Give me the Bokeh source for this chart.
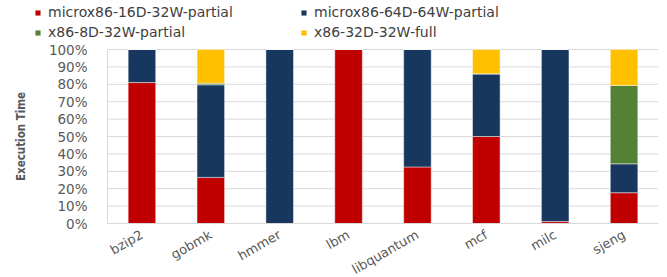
from bokeh.plotting import figure
from bokeh.models import Range1d, FixedTicker, NumeralTickFormatter, Legend, LegendItem
from bokeh.embed import file_html
from bokeh.resources import INLINE

categories = ["bzip2", "gobmk", "hmmer", "lbm", "libquantum", "mcf", "milc", "sjeng"]
series_names = ["microx86-16D-32W-partial", "microx86-64D-64W-partial",
                "x86-8D-32W-partial", "x86-32D-32W-full"]
red = [0.81, 0.265, 0.0, 1.0, 0.325, 0.50, 0.011, 0.177]
blue = [0.19, 0.532, 1.0, 0.0, 0.675, 0.36, 0.989, 0.166]
green = [0.0, 0.009, 0.0, 0.0, 0.0, 0.0, 0.0, 0.45]
yellow = [0.0, 0.194, 0.0, 0.0, 0.0, 0.14, 0.0, 0.207]
colors = ["#C00000", "#17375E", "#538135", "#FFC000"]
y_ticks = [0, 0.1, 0.2, 0.3, 0.4, 0.5, 0.6, 0.7, 0.8, 0.9, 1.0]

n = len(categories)
xpos = [i + 0.5 for i in range(n)]
data = {"x": xpos, "s0": red, "s1": blue, "s2": green, "s3": yellow}

# frame covers the whole canvas; the bars occupy a 551 x 174 px region inside it
left_px, plot_px, top_px, plot_h, bottom_px = 107, 551, 49, 174, 53
x_start = -left_px / plot_px * n
y_start = -bottom_px / plot_h
y_end = 1 + top_px / plot_h

p = figure(x_range=Range1d(x_start, n), y_range=Range1d(y_start, y_end),
           frame_width=left_px + plot_px, frame_height=top_px + plot_h + bottom_px,
           output_backend="svg", toolbar_location=None,
           min_border_left=0, min_border_right=1, min_border_top=0, min_border_bottom=0)
p.outline_line_color = None
p.xgrid.grid_line_color = None
p.ygrid.grid_line_color = None

# horizontal gridlines over the category area only
p.segment(x0=[0] * len(y_ticks), x1=[n] * len(y_ticks), y0=y_ticks, y1=y_ticks,
          line_color="#d9d9d9", line_width=1)

renderers = p.vbar_stack(["s0", "s1", "s2", "s3"], x="x", width=0.4, source=data,
                         color=colors, line_color="white", line_alpha=0.45, line_width=1)

p.yaxis.ticker = FixedTicker(ticks=y_ticks)
p.yaxis.bounds = (0, 1)
p.yaxis.fixed_location = 0
p.yaxis.formatter = NumeralTickFormatter(format="0%")
p.xaxis.ticker = FixedTicker(ticks=xpos)
p.xaxis.major_label_overrides = {x: c for x, c in zip(xpos, categories)}
p.xaxis.bounds = (0, n)
p.xaxis.fixed_location = 0
for ax in (p.xaxis[0], p.yaxis[0]):
    ax.axis_line_color = "#d9d9d9"
    ax.major_tick_line_color = None
    ax.minor_tick_line_color = None
    ax.major_tick_out = 0
    ax.major_tick_in = 0
    ax.major_label_text_color = "#595959"
    ax.major_label_text_font = "DejaVu Sans"
    ax.major_label_text_font_size = "13.5px"

p.xaxis.major_label_text_font_size = "13px"
p.yaxis.major_label_standoff = 20
p.xaxis.major_label_standoff = 10
p.xaxis.major_label_orientation = 0.52
p.yaxis.axis_label = "Execution Time"
p.yaxis.axis_label_text_font = "'Liberation Sans Narrow', 'DejaVu Sans Condensed', sans-serif"
p.yaxis.axis_label_text_font_style = "bold"
p.yaxis.axis_label_text_font_size = "11.5px"
p.yaxis.axis_label_text_color = "#595959"
p.yaxis.axis_label_standoff = 18

# column-major fill: column 1 = series 0, 2; column 2 = series 1, 3
order = [0, 2, 1, 3]
items = [LegendItem(label=series_names[i], renderers=[renderers[i]]) for i in order]
legend = Legend(items=items, ncols=2, location=(34, 236),
                glyph_width=7, glyph_height=7, label_height=12, label_width=248,
                label_standoff=7, spacing=4, padding=0, margin=0,
                border_line_color=None, background_fill_alpha=0,
                label_text_font="DejaVu Sans", label_text_font_size="14px",
                label_text_color="#404040")
p.add_layout(legend, "center")

open("out.html", "w").write(file_html(p, INLINE))
